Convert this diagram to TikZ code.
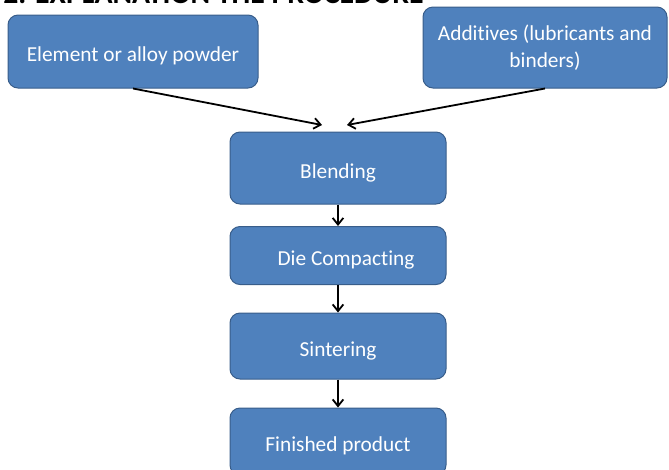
\documentclass[tikz,border=0pt]{standalone}
\usepackage{fontspec}
\setmainfont{Carlito}[Ligatures=CommonOff]
\usetikzlibrary{arrows.meta}
\definecolor{boxblue}{HTML}{4F81BD}
\definecolor{boxline}{HTML}{385D8A}
\tikzset{
  stage/.style={draw=boxline, fill=boxblue, rounded corners=7.5pt, line width=0.75pt,
    text=white, font=\fontsize{16}{20}\selectfont, align=center, inner sep=0pt},
  oneline/.style={text height=15pt, text depth=0pt},
}
\def\darr{\draw[-{Straight Barb[length=5pt,width=8pt]},line width=1.35pt]}

\begin{document}
\begin{tikzpicture}[x=0.75pt,y=-0.75pt]
                \clip (0,0) rectangle (669,469);
                \node[anchor=base west, inner sep=0pt, font=\bfseries\fontsize{22.3}{26}\selectfont] (title) at (3,3) {2. EXPLANATION THE PROCEDURE};
                % inputs
                \node[stage, oneline, minimum width=187.5pt, minimum height=54.75pt] (powder) at (133,51.5) {Element or alloy powder};
                \node[stage, minimum width=183pt, minimum height=60.75pt] (additives) at (545,47.5) {Additives (lubricants and\\binders)};
                % process chain
                \node[stage, oneline, minimum width=162pt, minimum height=54pt] (blend) at (338,168) {Blending};
                \node[stage, oneline, minimum width=162pt, minimum height=43.5pt] (compact) at (338,255.5) {\hspace{12pt}Die Compacting};
                \node[stage, oneline, minimum width=162pt, minimum height=49.5pt] (sinter) at (338,346) {Sintering};
                \node[stage, oneline, minimum width=162pt, minimum height=50.25pt] (product) at (338,441.5) {Finished product};
                \coordinate (inL) at (322,125);
                \coordinate (inR) at (347,125);
                \darr (powder.south) -- (inL);
                \darr (additives.south) -- (inR);
                \darr (blend) -- (compact);
                \darr (compact) -- (sinter);
                \darr (sinter) -- (product);
            \end{tikzpicture}
\end{document}
